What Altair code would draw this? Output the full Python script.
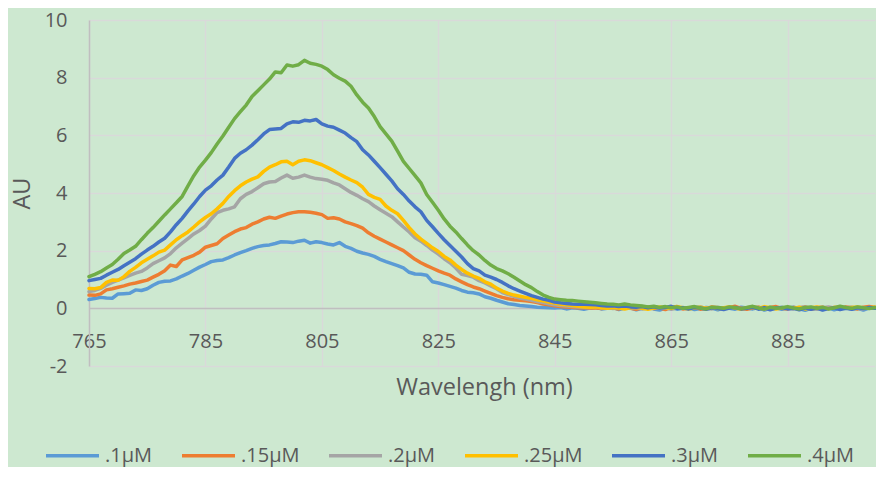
import altair as alt
import pandas as pd

wavelength = list(range(765, 901))

s_01 = [0.31,0.34,0.38,0.36,0.35,0.50,0.51,0.52,0.64,0.62,
        0.68,0.80,0.90,0.94,0.95,1.02,1.12,1.21,1.32,1.43,
        1.52,1.62,1.66,1.68,1.76,1.85,1.93,2.00,2.08,2.14,
        2.18,2.20,2.25,2.31,2.30,2.28,2.33,2.36,2.26,2.31,
        2.28,2.23,2.20,2.28,2.15,2.08,1.98,1.92,1.87,1.80,
        1.70,1.62,1.55,1.48,1.40,1.25,1.19,1.18,1.15,0.92,
        0.88,0.82,0.76,0.70,0.62,0.56,0.54,0.50,0.40,0.35,
        0.28,0.22,0.16,0.13,0.10,0.08,0.06,0.04,0.03,0.02,
        0.01,0.03,-0.02,0.02,0.00,-0.03,0.01,0.04,-0.02,0.00,
        0.03,-0.04,0.01,0.02,-0.05,0.00,0.03,-0.02,-0.06,0.01,
        0.04,-0.03,0.00,0.02,-0.04,-0.01,0.03,0.01,-0.05,0.02,
        0.00,-0.03,0.04,0.01,-0.02,0.03,-0.06,0.00,0.02,-0.03,
        0.01,0.04,-0.02,-0.07,0.00,0.03,-0.04,0.02,-0.05,0.01,
        0.03,-0.02,0.00,-0.06,0.02,0.01]

s_015 = [0.46,0.45,0.50,0.64,0.68,0.73,0.78,0.84,0.88,0.93,
         0.98,1.08,1.18,1.30,1.50,1.45,1.68,1.76,1.84,1.95,
         2.12,2.18,2.24,2.42,2.54,2.66,2.75,2.80,2.92,3.00,
         3.10,3.16,3.12,3.20,3.27,3.32,3.35,3.35,3.33,3.30,
         3.25,3.12,3.14,3.10,3.00,2.94,2.87,2.78,2.62,2.50,
         2.40,2.30,2.20,2.10,2.00,1.85,1.70,1.58,1.48,1.39,
         1.30,1.22,1.15,1.02,0.92,0.82,0.74,0.68,0.60,0.52,
         0.44,0.38,0.33,0.30,0.28,0.26,0.24,0.20,0.15,0.12,
         0.09,0.06,0.05,0.04,0.02,0.03,0.00,0.02,-0.01,0.03,
         0.01,-0.02,0.04,0.00,-0.03,0.02,0.05,-0.01,0.02,-0.04,
         0.03,0.06,-0.02,0.01,0.04,-0.03,0.00,0.05,0.02,-0.02,
         0.03,0.07,0.00,-0.03,0.02,0.04,-0.01,0.03,0.06,0.00,
         -0.02,0.03,0.01,0.05,-0.03,0.02,0.04,-0.01,0.03,0.00,
         0.05,0.02,-0.02,0.04,0.06,0.03]

s_02 = [0.58,0.62,0.69,0.80,0.90,0.98,1.06,1.14,1.22,1.28,
        1.40,1.55,1.65,1.75,1.90,2.10,2.26,2.42,2.58,2.70,
        2.85,3.10,3.32,3.40,3.45,3.52,3.80,3.95,4.05,4.18,
        4.32,4.38,4.40,4.52,4.62,4.51,4.55,4.62,4.55,4.50,
        4.48,4.44,4.35,4.28,4.15,4.02,3.92,3.80,3.70,3.55,
        3.42,3.30,3.18,3.00,2.82,2.65,2.45,2.33,2.18,2.02,
        1.88,1.72,1.58,1.40,1.18,1.14,1.08,0.96,0.88,0.78,
        0.68,0.55,0.48,0.42,0.36,0.32,0.28,0.24,0.20,0.16,
        0.12,0.10,0.08,0.06,0.05,0.04,0.02,0.05,0.01,0.03,
        -0.01,0.02,0.04,0.00,0.03,-0.02,0.01,0.04,0.00,0.02,
        -0.03,0.01,0.03,-0.01,0.02,0.05,0.00,-0.02,0.03,0.01,
        0.04,0.00,-0.02,0.02,0.05,0.01,-0.03,0.02,0.00,0.03,
        0.01,-0.02,0.03,0.04,0.00,-0.03,0.02,0.05,0.01,-0.01,
        0.02,0.04,0.00,-0.02,0.03,0.01]

s_025 = [0.69,0.68,0.72,0.90,0.98,0.97,1.10,1.28,1.42,1.58,
         1.70,1.82,1.95,2.02,2.20,2.38,2.52,2.65,2.82,3.00,
         3.15,3.28,3.45,3.64,3.88,4.08,4.25,4.38,4.48,4.56,
         4.75,4.90,4.98,5.08,5.10,4.98,5.10,5.15,5.12,5.05,
         4.98,4.88,4.78,4.66,4.55,4.45,4.36,4.20,3.95,3.85,
         3.78,3.55,3.40,3.28,3.05,2.80,2.58,2.40,2.25,2.10,
         1.97,1.80,1.68,1.50,1.35,1.22,1.12,1.04,0.92,0.84,
         0.70,0.60,0.52,0.46,0.42,0.38,0.35,0.30,0.26,0.22,
         0.18,0.14,0.12,0.10,0.07,0.05,0.04,0.05,0.02,0.00,
         0.03,0.01,-0.02,0.02,0.04,0.00,-0.03,0.01,0.05,0.02,
         0.00,0.06,0.02,-0.02,0.01,0.04,0.00,0.03,-0.01,0.02,
         0.05,0.01,-0.03,0.02,0.04,0.00,0.06,0.02,-0.02,0.01,
         0.03,0.00,0.04,-0.02,0.02,0.05,0.01,-0.01,0.03,0.04,
         0.00,0.03,0.05,0.01,0.02,0.04]

s_03 = [0.96,1.00,1.04,1.15,1.25,1.35,1.48,1.60,1.72,1.88,
        2.02,2.15,2.30,2.43,2.65,2.90,3.12,3.38,3.62,3.88,
        4.10,4.25,4.45,4.62,4.90,5.20,5.38,5.50,5.66,5.85,
        6.05,6.20,6.22,6.24,6.40,6.47,6.45,6.52,6.50,6.55,
        6.40,6.32,6.28,6.18,6.08,5.92,5.78,5.50,5.32,5.10,
        4.88,4.65,4.42,4.15,3.95,3.72,3.52,3.35,3.05,2.83,
        2.60,2.38,2.18,1.98,1.78,1.55,1.38,1.30,1.15,1.08,
        1.00,0.90,0.78,0.68,0.60,0.52,0.44,0.38,0.32,0.28,
        0.22,0.19,0.17,0.15,0.14,0.14,0.13,0.12,0.10,0.08,
        0.09,0.06,0.08,0.05,0.04,0.06,0.02,0.05,0.01,0.03,
        0.07,0.00,0.02,-0.02,0.03,0.01,-0.03,0.02,0.00,-0.04,
        0.01,0.03,-0.02,0.00,0.04,-0.03,0.02,-0.05,0.01,0.03,
        -0.02,0.00,-0.05,0.02,-0.03,0.01,-0.06,-0.01,0.02,-0.04,
        0.00,-0.03,0.02,-0.01,0.03,0.00]

s_04 = [1.10,1.18,1.27,1.40,1.52,1.70,1.90,2.02,2.15,2.38,
        2.60,2.80,3.02,3.24,3.45,3.66,3.88,4.25,4.60,4.90,
        5.14,5.40,5.70,5.98,6.28,6.58,6.82,7.05,7.35,7.55,
        7.75,7.95,8.20,8.17,8.44,8.40,8.45,8.60,8.50,8.46,
        8.40,8.28,8.10,7.98,7.88,7.70,7.40,7.15,6.95,6.65,
        6.30,6.05,5.80,5.45,5.10,4.85,4.60,4.35,3.95,3.68,
        3.40,3.10,2.85,2.65,2.42,2.20,2.00,1.85,1.66,1.50,
        1.38,1.30,1.20,1.08,0.95,0.82,0.72,0.58,0.46,0.38,
        0.32,0.30,0.28,0.27,0.25,0.23,0.21,0.19,0.17,0.15,
        0.14,0.12,0.15,0.12,0.10,0.08,0.05,0.07,0.03,0.06,
        0.02,0.05,0.00,0.03,0.06,0.01,-0.02,0.04,0.03,0.00,
        0.05,0.02,-0.01,0.03,0.07,0.01,-0.03,0.04,0.00,0.02,
        0.06,0.01,-0.02,0.03,0.05,0.00,0.04,-0.02,0.02,0.07,
        0.03,0.00,0.05,0.02,-0.01,0.03]

series_names = [".1μM", ".15μM", ".2μM", ".25μM", ".3μM", ".4μM"]
series_colors = ["#5B9BD5", "#ED7D31", "#A5A5A5", "#FFC000", "#4472C4", "#70AD47"]
series_values = [s_01, s_015, s_02, s_025, s_03, s_04]

x_ticks = [765, 785, 805, 825, 845, 865, 885]
y_ticks = [-2, 0, 2, 4, 6, 8, 10]

rows = []
for idx, (name, vals) in enumerate(zip(series_names, series_values)):
    for w, v in zip(wavelength, vals):
        rows.append({"wl": w, "au": v, "series": name, "k": idx})
df = pd.DataFrame(rows)

TXT = "#595959"
FONT = "Open Sans"

chart = alt.Chart(df).mark_line(strokeWidth=3.5, strokeJoin="round", strokeCap="round").encode(
    x=alt.X("wl:Q",
            scale=alt.Scale(domain=[765, 900], nice=False, zero=False),
            axis=alt.Axis(values=x_ticks, title="Wavelengh (nm)", offset=-58,
                          ticks=False, tickSize=0, labelPadding=39, labelBaseline="alphabetic",
                          labelFlush=False, labelOverlap=False,
                          labelFont=FONT, labelFontSize=20, labelColor=TXT,
                          domainColor="#bfbfbf", domainWidth=1.5,
                          grid=True, gridColor="#d9d9d9", gridWidth=1.5,
                          titleFont=FONT, titleFontSize=23.5, titleFontWeight="normal", titleColor=TXT,
                          titleX=395, titleY=86, titleAlign="center", titleBaseline="alphabetic")),
    y=alt.Y("au:Q",
            scale=alt.Scale(domain=[-2, 10], nice=False, zero=False),
            axis=alt.Axis(values=y_ticks, title="AU", labelExpr="'' + datum.value",
                          ticks=False, tickSize=0, labelPadding=22,
                          labelFlush=False, labelOverlap=False,
                          labelFont=FONT, labelFontSize=20, labelColor=TXT,
                          domainColor="#bfbfbf", domainWidth=1.5,
                          grid=True, gridColor="#d9d9d9", gridWidth=1.5,
                          titleFont=FONT, titleFontSize=23.5, titleFontWeight="normal", titleColor=TXT,
                          titleX=-67, titleY=173, titleAngle=270, titleAlign="center",
                          titleBaseline="middle")),
    color=alt.Color("series:N",
                    scale=alt.Scale(domain=series_names, range=series_colors),
                    legend=alt.Legend(title=None, orient="none", legendX=-45, legendY=407,
                                      direction="horizontal", symbolType="stroke",
                                      symbolSize=2809, symbolStrokeWidth=3.5,
                                      labelFont=FONT, labelFontSize=20, labelColor=TXT,
                                      labelOffset=4, columnPadding=22)),
    order=alt.Order("k:Q"),
).properties(
    width=786, height=346,
    autosize=alt.AutoSizeParams(type="none"),
    padding={"left": 81, "top": 12, "right": 1, "bottom": 101},
    background="#cde8d0",
).configure_view(strokeWidth=0)

chart.save("out.html", embed_options={"renderer": "svg", "actions": False})
